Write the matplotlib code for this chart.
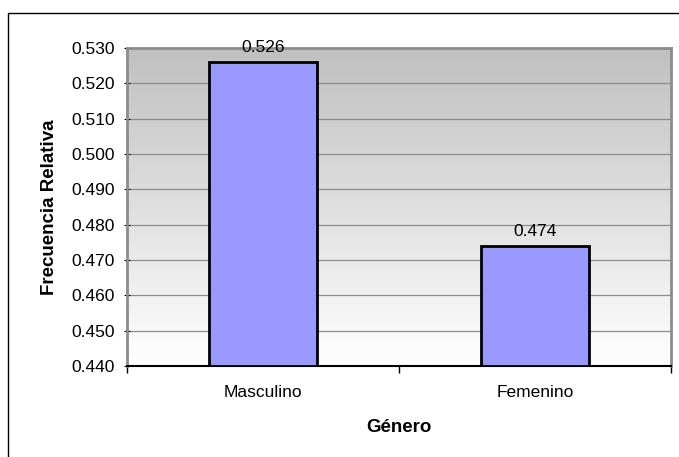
import matplotlib
matplotlib.use("Agg")
import matplotlib.pyplot as plt
import numpy as np
from matplotlib.patches import Rectangle

categories = ["Masculino", "Femenino"]
values = [0.526, 0.474]
yticks = [0.440, 0.450, 0.460, 0.470, 0.480, 0.490, 0.500, 0.510, 0.520, 0.530]

plt.rcParams['font.family'] = ['Liberation Sans', 'DejaVu Sans']

fig = plt.figure(figsize=(6.79, 4.57), dpi=100)
# outer chart frame
fig.patches.append(Rectangle((8/679, -0.01), 1.0, 1 - 13/457 + 0.01, transform=fig.transFigure,
                             fill=False, edgecolor='black', linewidth=1.0))

ax = fig.add_axes([127/679, 1 - 366/457, (671 - 127)/679, (366 - 48)/457])

# gradient background
grad = np.linspace(0, 1, 256).reshape(-1, 1)
cmap = matplotlib.colors.LinearSegmentedColormap.from_list('g', ['#ffffff', '#c0c0c0'])
ax.imshow(grad, extent=[0, 1, 0, 1], transform=ax.transAxes, cmap=cmap, aspect='auto',
          origin='lower', zorder=0)

x = np.arange(len(categories))
ax.set_xlim(-0.5, 1.5)
ax.set_ylim(0.440, 0.530)
for yt in yticks[1:-1]:
    ax.axhline(yt, color='#8c8c8c', linewidth=0.9, zorder=1)

bars = ax.bar(x, [v - 0.440 for v in values], bottom=0.440, width=0.4, color='#9999ff',
              edgecolor='black', linewidth=2, zorder=3)
for xi, v in zip(x, values):
    ax.annotate(f"{v:.3f}", (xi, v), xytext=(0, 5), textcoords='offset points',
                ha='center', va='bottom', fontsize=12.5, zorder=4, annotation_clip=False)

ax.set_yticks(yticks)
ax.set_yticklabels([f"{t:.3f}" for t in yticks], fontsize=12.5)
ax.set_xticks([-0.5, 0.5, 1.5])
ax.set_xticklabels([])
ax.set_xticks(x, minor=True)
ax.set_xticklabels(categories, minor=True, fontsize=12.5)
ax.tick_params(axis='x', which='minor', length=0, pad=14)
ax.tick_params(axis='x', which='major', length=5, color='black', width=1)
ax.tick_params(axis='y', length=5, color='black', direction='inout', pad=6)

for s in ['top', 'right']:
    ax.spines[s].set_color('#8c8c8c')
    ax.spines[s].set_linewidth(2)
ax.spines['left'].set_color('#8c8c8c')
ax.spines['left'].set_linewidth(2)
ax.spines['bottom'].set_color('black')
ax.spines['bottom'].set_linewidth(1.5)

ax.set_ylabel("Frecuencia Relativa", fontsize=13.5, fontweight='bold', labelpad=10)
ax.set_xlabel("Género", fontsize=13.5, fontweight='bold', labelpad=13)

fig.savefig("out.png", dpi=100)
